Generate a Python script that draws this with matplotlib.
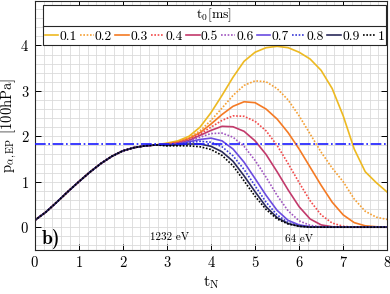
import numpy as np
import matplotlib
matplotlib.use('Agg')
import matplotlib.pyplot as plt
from matplotlib.lines import Line2D
from matplotlib.ticker import MultipleLocator

plt.rcParams['font.family'] = 'serif'
plt.rcParams['font.serif'] = ['cmr10']
plt.rcParams['mathtext.fontset'] = 'cm'
plt.rcParams['axes.unicode_minus'] = False
plt.rcParams['axes.formatter.use_mathtext'] = True

# time axis (normalised)
t = [0, 0.25, 0.5, 0.75, 1, 1.25, 1.5, 1.75, 2, 2.25, 2.5, 2.75,
     3, 3.25, 3.5, 3.75, 4, 4.25, 4.5, 4.75, 5, 5.25, 5.5, 5.75,
     6, 6.25, 6.5, 6.75, 7, 7.25, 7.5, 7.75, 8]

# shared rise, t = 0 .. 2.75
rise = [0.15, 0.33, 0.55, 0.78, 1.0, 1.21, 1.4, 1.56, 1.68, 1.75, 1.79, 1.81]

# t = 3 .. 8 for each t0
p_01 = [1.85, 1.9, 2.0, 2.2, 2.52, 2.9, 3.3, 3.65, 3.85, 3.95, 3.98, 3.95,
        3.85, 3.7, 3.45, 3.05, 2.45, 1.72, 1.22, 0.98, 0.77]
p_02 = [1.84, 1.88, 1.97, 2.12, 2.35, 2.62, 2.9, 3.12, 3.22, 3.2, 3.05, 2.8,
        2.45, 2.05, 1.65, 1.3, 1.0, 0.62, 0.35, 0.22, 0.17]
p_03 = [1.83, 1.87, 1.95, 2.08, 2.27, 2.48, 2.66, 2.76, 2.74, 2.6, 2.38, 2.08,
        1.72, 1.32, 0.92, 0.55, 0.27, 0.1, 0.03, 0.01, 0.0]
p_04 = [1.82, 1.86, 1.93, 2.05, 2.2, 2.35, 2.45, 2.44, 2.33, 2.12, 1.8, 1.4,
        0.98, 0.58, 0.27, 0.09, 0.02, 0.0, 0.0, 0.0, 0.0]
p_05 = [1.82, 1.85, 1.91, 2.02, 2.13, 2.22, 2.21, 2.11, 1.9, 1.6, 1.22, 0.82,
        0.45, 0.18, 0.05, 0.01, 0.0, 0.0, 0.0, 0.0, 0.0]
p_06 = [1.81, 1.84, 1.9, 1.98, 2.06, 2.07, 1.98, 1.78, 1.47, 1.1, 0.7, 0.36,
        0.14, 0.04, 0.01, 0.0, 0.0, 0.0, 0.0, 0.0, 0.0]
p_07 = [1.81, 1.83, 1.88, 1.93, 1.96, 1.9, 1.72, 1.43, 1.07, 0.7, 0.37, 0.15,
        0.05, 0.01, 0.0, 0.0, 0.0, 0.0, 0.0, 0.0, 0.0]
p_08 = [1.8, 1.82, 1.86, 1.89, 1.87, 1.77, 1.57, 1.27, 0.91, 0.55, 0.27, 0.1,
        0.03, 0.01, 0.0, 0.0, 0.0, 0.0, 0.0, 0.0, 0.0]
p_09 = [1.8, 1.81, 1.83, 1.83, 1.78, 1.66, 1.45, 1.13, 0.78, 0.45, 0.21, 0.08,
        0.02, 0.0, 0.0, 0.0, 0.0, 0.0, 0.0, 0.0, 0.0]
p_10 = [1.79, 1.79, 1.79, 1.77, 1.71, 1.58, 1.35, 1.02, 0.68, 0.39, 0.18, 0.07,
        0.02, 0.0, 0.0, 0.0, 0.0, 0.0, 0.0, 0.0, 0.0]

t0_labels = ['0.1', '0.2', '0.3', '0.4', '0.5', '0.6', '0.7', '0.8', '0.9', '1']
series = [p_01, p_02, p_03, p_04, p_05, p_06, p_07, p_08, p_09, p_10]
colors = ['#EDB921', '#F5A033', '#F47A24', '#F24A4A', '#C23A6B',
          '#A055C0', '#6A4BE0', '#3A3AD6', '#2A2A5A', '#000000']
dotted = (0, (1, 1))
styles = ['-', dotted, '-', dotted, '-', dotted, '-', dotted, '-', dotted]

p_ref = 1.82

fig = plt.figure(figsize=(3.9, 2.94), dpi=100)
ax = fig.add_axes([0.089, 0.15, 0.904, 0.847])

for lab, vals, c, ls in zip(t0_labels, series, colors, styles):
    ax.plot(t, rise + vals, color=c, ls=ls, lw=1.2, label=lab)

ax.axhline(p_ref, color='#1a1aff', ls='-.', lw=1.2, zorder=3)

ax.set_xlim(0, 8)
ax.set_ylim(-0.5, 4.98)
ax.set_yticks([0, 1, 2, 3, 4])
ax.xaxis.set_minor_locator(MultipleLocator(0.2))
ax.yaxis.set_minor_locator(MultipleLocator(0.2))
ax.grid(True, which='both', color='#dadada', lw=0.6)
ax.set_axisbelow(True)
ax.tick_params(which='major', direction='in', top=True, right=True,
               length=4, width=0.7, labelsize=10.5, pad=4)
ax.tick_params(which='minor', length=0)
for s in ax.spines.values():
    s.set_linewidth(0.8)
    s.set_color('#262626')

ax.set_xlabel(r't$_\mathrm{N}$', fontsize=11.5, labelpad=3)
ax.set_ylabel(r'p$_{\alpha,\mathrm{EP}}$ [100hPa]', fontsize=10.5, labelpad=1)

ax.text(0.16, -0.27, 'b)', fontsize=14, fontfamily='cmb10', va='center')
ax.text(3.05, -0.23, '1232 eV', fontsize=8, ha='center', va='center')
ax.text(6.0, -0.26, '64 eV', fontsize=8, ha='center', va='center')

leg = ax.legend(ncol=10, loc='upper center', bbox_to_anchor=(0.51, 0.993),
                title=r't$_0$[ms]', fontsize=9.8, title_fontsize=9.8,
                handlelength=1.0, handletextpad=0.1, columnspacing=0.22,
                borderpad=0.12, borderaxespad=0.15, fancybox=False,
                framealpha=1, edgecolor='#262626')
leg.get_frame().set_linewidth(0.8)

fig.canvas.draw()
fb = leg.get_frame().get_window_extent()
tb = leg.get_title().get_window_extent()
ysep = tb.y0 - 2
inv = fig.transFigure.inverted()
(x0, y0) = inv.transform((fb.x0, ysep))
(x1, _) = inv.transform((fb.x1, ysep))
fig.add_artist(Line2D([x0, x1], [y0, y0], color='#262626', lw=0.8,
                      transform=fig.transFigure, zorder=10))

fig.savefig('out.png', dpi=100)
